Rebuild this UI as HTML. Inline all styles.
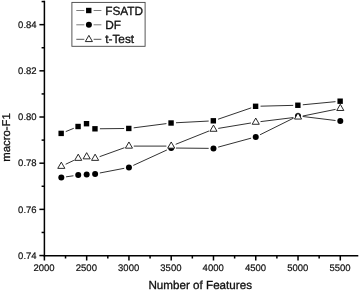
<!DOCTYPE html>
<html><head><meta charset="utf-8"><title>macro-F1 vs Number of Features</title>
<style>html,body{margin:0;padding:0;background:#fff;}svg{display:block;}</style></head>
<body>
<svg width="359" height="291" viewBox="0 0 359 291" font-family="'Liberation Sans', sans-serif" text-rendering="geometricPrecision">
<rect width="359" height="291" fill="#fff"/>
<g stroke="#000" stroke-width="1.5" fill="none"><line x1="44.4" y1="0.81" x2="44.4" y2="256.45" /><line x1="43.65" y1="255.7" x2="358.3" y2="255.7" /><line x1="39.40" y1="255.55" x2="44.4" y2="255.55"/><line x1="41.60" y1="232.46" x2="44.4" y2="232.46"/><line x1="39.40" y1="209.37" x2="44.4" y2="209.37"/><line x1="41.60" y1="186.28" x2="44.4" y2="186.28"/><line x1="39.40" y1="163.19" x2="44.4" y2="163.19"/><line x1="41.60" y1="140.10" x2="44.4" y2="140.10"/><line x1="39.40" y1="117.01" x2="44.4" y2="117.01"/><line x1="41.60" y1="93.92" x2="44.4" y2="93.92"/><line x1="39.40" y1="70.83" x2="44.4" y2="70.83"/><line x1="41.60" y1="47.74" x2="44.4" y2="47.74"/><line x1="39.40" y1="24.65" x2="44.4" y2="24.65"/><line x1="41.60" y1="1.56" x2="44.4" y2="1.56"/><line x1="44.40" y1="255.7" x2="44.40" y2="260.50"/><line x1="65.53" y1="255.7" x2="65.53" y2="258.50"/><line x1="86.67" y1="255.7" x2="86.67" y2="260.50"/><line x1="107.81" y1="255.7" x2="107.81" y2="258.50"/><line x1="128.94" y1="255.7" x2="128.94" y2="260.50"/><line x1="150.08" y1="255.7" x2="150.08" y2="258.50"/><line x1="171.21" y1="255.7" x2="171.21" y2="260.50"/><line x1="192.34" y1="255.7" x2="192.34" y2="258.50"/><line x1="213.48" y1="255.7" x2="213.48" y2="260.50"/><line x1="234.62" y1="255.7" x2="234.62" y2="258.50"/><line x1="255.75" y1="255.7" x2="255.75" y2="260.50"/><line x1="276.88" y1="255.7" x2="276.88" y2="258.50"/><line x1="298.02" y1="255.7" x2="298.02" y2="260.50"/><line x1="319.15" y1="255.7" x2="319.15" y2="258.50"/><line x1="340.29" y1="255.7" x2="340.29" y2="260.50"/></g>
<g stroke="#333" stroke-width="1" fill="none"><line x1="65.75" y1="131.59" x2="73.77" y2="128.31"/><line x1="99.92" y1="128.75" x2="124.14" y2="128.50"/><line x1="133.70" y1="127.84" x2="166.45" y2="123.61"/><line x1="176.00" y1="122.75" x2="208.69" y2="121.05"/><line x1="218.02" y1="119.24" x2="251.21" y2="107.86"/><line x1="260.55" y1="106.18" x2="293.22" y2="105.37"/><line x1="302.80" y1="104.79" x2="335.51" y2="101.66"/></g><rect x="58.46" y="130.70" width="5.4" height="5.4" fill="#000"/><rect x="75.37" y="123.80" width="5.4" height="5.4" fill="#000"/><rect x="83.82" y="121.00" width="5.4" height="5.4" fill="#000"/><rect x="92.27" y="126.10" width="5.4" height="5.4" fill="#000"/><rect x="126.09" y="125.75" width="5.4" height="5.4" fill="#000"/><rect x="168.36" y="120.30" width="5.4" height="5.4" fill="#000"/><rect x="210.63" y="118.10" width="5.4" height="5.4" fill="#000"/><rect x="252.90" y="103.60" width="5.4" height="5.4" fill="#000"/><rect x="295.17" y="102.55" width="5.4" height="5.4" fill="#000"/><rect x="337.44" y="98.50" width="5.4" height="5.4" fill="#000"/><g stroke="#333" stroke-width="1" fill="none"><line x1="66.06" y1="176.83" x2="73.46" y2="175.77"/><line x1="99.84" y1="172.99" x2="124.23" y2="168.31"/><line x1="133.30" y1="165.40" x2="166.85" y2="150.00"/><line x1="176.01" y1="148.05" x2="208.68" y2="148.35"/><line x1="218.11" y1="147.14" x2="251.12" y2="138.16"/><line x1="260.05" y1="134.76" x2="293.72" y2="118.04"/><line x1="302.78" y1="116.49" x2="335.53" y2="120.51"/></g><circle cx="61.31" cy="177.50" r="3.0" fill="#000"/><circle cx="78.22" cy="175.10" r="3.0" fill="#000"/><circle cx="86.67" cy="174.50" r="3.0" fill="#000"/><circle cx="95.12" cy="173.90" r="3.0" fill="#000"/><circle cx="128.94" cy="167.40" r="3.0" fill="#000"/><circle cx="171.21" cy="148.00" r="3.0" fill="#000"/><circle cx="213.48" cy="148.40" r="3.0" fill="#000"/><circle cx="255.75" cy="136.90" r="3.0" fill="#000"/><circle cx="298.02" cy="115.90" r="3.0" fill="#000"/><circle cx="340.29" cy="121.10" r="3.0" fill="#000"/><g stroke="#333" stroke-width="1" fill="none"><line x1="65.65" y1="164.25" x2="73.88" y2="160.35"/><line x1="99.64" y1="156.67" x2="124.42" y2="147.73"/><line x1="133.74" y1="146.10" x2="166.41" y2="146.10"/><line x1="175.67" y1="144.32" x2="209.02" y2="130.98"/><line x1="218.22" y1="128.42" x2="251.01" y2="122.98"/><line x1="260.51" y1="121.61" x2="293.26" y2="117.59"/><line x1="302.72" y1="116.04" x2="335.59" y2="109.36"/></g><polygon points="61.31,162.17 64.86,168.37 57.76,168.37" fill="#fff" stroke="#111" stroke-width="0.9" stroke-linejoin="miter"/><polygon points="78.22,154.17 81.77,160.37 74.67,160.37" fill="#fff" stroke="#111" stroke-width="0.9" stroke-linejoin="miter"/><polygon points="86.67,152.67 90.22,158.87 83.12,158.87" fill="#fff" stroke="#111" stroke-width="0.9" stroke-linejoin="miter"/><polygon points="95.12,154.17 98.67,160.37 91.57,160.37" fill="#fff" stroke="#111" stroke-width="0.9" stroke-linejoin="miter"/><polygon points="128.94,141.97 132.49,148.17 125.39,148.17" fill="#fff" stroke="#111" stroke-width="0.9" stroke-linejoin="miter"/><polygon points="171.21,141.97 174.76,148.17 167.66,148.17" fill="#fff" stroke="#111" stroke-width="0.9" stroke-linejoin="miter"/><polygon points="213.48,125.07 217.03,131.27 209.93,131.27" fill="#fff" stroke="#111" stroke-width="0.9" stroke-linejoin="miter"/><polygon points="255.75,118.07 259.30,124.27 252.20,124.27" fill="#fff" stroke="#111" stroke-width="0.9" stroke-linejoin="miter"/><polygon points="298.02,112.87 301.57,119.07 294.47,119.07" fill="#fff" stroke="#111" stroke-width="0.9" stroke-linejoin="miter"/><polygon points="340.29,104.27 343.84,110.47 336.74,110.47" fill="#fff" stroke="#111" stroke-width="0.9" stroke-linejoin="miter"/>
<rect x="71.9" y="2.4" width="73.2" height="43.9" fill="#fff" stroke="#444" stroke-width="0.9"/><line x1="76.3" y1="10.5" x2="84.3" y2="10.5" stroke="#6e6e6e" stroke-width="0.9"/><line x1="93.6" y1="10.5" x2="101.4" y2="10.5" stroke="#6e6e6e" stroke-width="0.9"/><line x1="76.3" y1="24.8" x2="84.3" y2="24.8" stroke="#6e6e6e" stroke-width="0.9"/><line x1="93.6" y1="24.8" x2="101.4" y2="24.8" stroke="#6e6e6e" stroke-width="0.9"/><line x1="76.3" y1="39.3" x2="84.3" y2="39.3" stroke="#444" stroke-width="0.9"/><line x1="93.6" y1="39.3" x2="101.4" y2="39.3" stroke="#444" stroke-width="0.9"/><rect x="86.05" y="7.80" width="5.4" height="5.4" fill="#000"/><circle cx="88.90" cy="24.80" r="3.0" fill="#000"/><polygon points="88.90,35.37 92.45,41.57 85.35,41.57" fill="#fff" stroke="#111" stroke-width="0.9" stroke-linejoin="miter"/>
<g font-size="9.5" fill="#111" stroke="#111" stroke-width="0.2"><text x="36.6" y="258.85" text-anchor="end">0.74</text><text x="36.6" y="212.67" text-anchor="end">0.76</text><text x="36.6" y="166.49" text-anchor="end">0.78</text><text x="36.6" y="120.31" text-anchor="end">0.80</text><text x="36.6" y="74.13" text-anchor="end">0.82</text><text x="36.6" y="27.95" text-anchor="end">0.84</text><text x="44.10" y="271" text-anchor="middle">2000</text><text x="86.37" y="271" text-anchor="middle">2500</text><text x="128.64" y="271" text-anchor="middle">3000</text><text x="170.91" y="271" text-anchor="middle">3500</text><text x="213.18" y="271" text-anchor="middle">4000</text><text x="255.45" y="271" text-anchor="middle">4500</text><text x="297.72" y="271" text-anchor="middle">5000</text><text x="339.99" y="271" text-anchor="middle">5500</text></g>
<g font-size="11.85" fill="#111" stroke="#111" stroke-width="0.3"><text x="200.2" y="289.3" text-anchor="middle" font-size="11.65">Number of Features</text><text transform="translate(9.55,137.5) rotate(-90)" text-anchor="middle" font-size="11.35">macro-F1</text><text x="105.2" y="14.9">FSATD</text><text x="105.2" y="29.1">DF</text><text x="105.2" y="43.4">t-Test</text></g>
</svg>
</body></html>
